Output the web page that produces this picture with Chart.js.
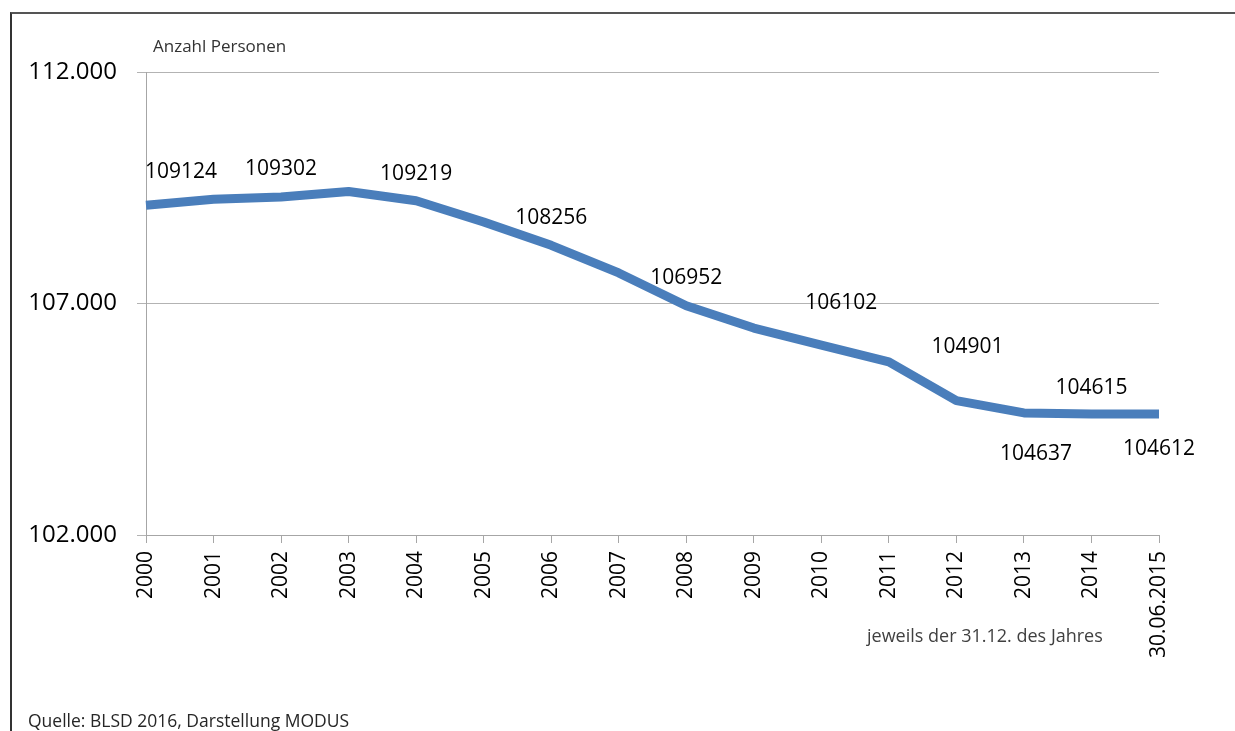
<!DOCTYPE html>
<html>
<head>
  <meta charset="utf-8">
  <title>Anzahl Personen 2000 - 2015</title>
  <style>
    body {
      margin: 0;
      padding: 0;
      background-color: #ffffff;
      font-family: "Open Sans", sans-serif;
    }
    #wrap {
      position: relative;
      width: 1235px;
      height: 731px;
      overflow: hidden;
    }
    #frame {
      position: absolute;
      left: 10px;
      top: 12px;
      width: 1300px;
      height: 800px;
      border-top: 2px solid #555555;
      border-left: 2px solid #333333;
    }
    canvas {
      position: absolute;
      left: 0;
      top: 0;
    }
    .note {
      position: absolute;
      white-space: nowrap;
      color: #333333;
    }
    #unit { left: 153px; top: 34px; font-size: 17px; }
    #stichtag { left: 867px; top: 623px; font-size: 18px; color: #404040; }
    #quelle { left: 28px; top: 708px; font-size: 17.5px; color: #262626; }
  </style>
  <script src="https://cdn.jsdelivr.net/npm/chart.js"></script>
</head>
<body>
  <div id="wrap">
    <div id="frame"></div>
    <canvas id="chart" width="1235" height="731"></canvas>
    <div class="note" id="unit">Anzahl Personen</div>
    <div class="note" id="stichtag">jeweils der 31.12. des Jahres</div>
    <div class="note" id="quelle">Quelle: BLSD 2016, Darstellung MODUS</div>
  </div>

  <script>
    // Daten
    var years = ['2000', '2001', '2002', '2003', '2004', '2005', '2006', '2007',
                 '2008', '2009', '2010', '2011', '2012', '2013', '2014', '30.06.2015'];
    var persons = [109124, 109250, 109302, 109420, 109219, 108760, 108256, 107660,
                   106952, 106470, 106102, 105740, 104901, 104637, 104615, 104612];
    var yTicks = [102000, 107000, 112000];

    // welche Punkte beschriftet sind, und wohin die Beschriftung rutscht
    var labelIdx = [0, 2, 4, 6, 8, 10, 12, 13, 14, 15];
    var labelDx  = [35, 0, 0, 0, 0, 20, 11, 12, 0, 0];
    var labelDy  = [-33, -28, -27, -27, -28, -42, -54, 41, -26, 35];

    function deFormat(v) {
      return String(v).replace(/\B(?=(\d{3})+(?!\d))/g, '.');
    }

    var pointLabels = {
      id: 'pointLabels',
      afterDatasetsDraw: function(chart) {
        var ctx = chart.ctx;
        var meta = chart.getDatasetMeta(0);
        ctx.save();
        ctx.font = '21px "Open Sans"';
        ctx.fillStyle = '#000000';
        ctx.textAlign = 'center';
        ctx.textBaseline = 'middle';
        labelIdx.forEach(function(idx, k) {
          var pt = meta.data[idx];
          ctx.fillText(String(persons[idx]), pt.x + labelDx[k], pt.y + labelDy[k]);
        });
        ctx.restore();
      }
    };

    var chart = new Chart(document.getElementById('chart'), {
      type: 'line',
      data: {
        labels: years,
        datasets: [{
          label: 'Anzahl Personen',
          data: persons,
          borderColor: '#4a7ebb',
          borderWidth: 9,
          borderJoinStyle: 'round',
          borderCapStyle: 'butt',
          pointRadius: 0,
          tension: 0,
          fill: false,
          clip: false
        }]
      },
      options: {
        responsive: false,
        animation: false,
        layout: { padding: { left: 0, top: 72, right: 76, bottom: 0 } },
        plugins: {
          legend: { display: false },
          tooltip: { enabled: false }
        },
        scales: {
          x: {
            offset: false,
            afterFit: function(scale) { scale.height = 196; },
            grid: {
              drawOnChartArea: false,
              drawTicks: true,
              tickLength: 8,
              color: '#a6a6a6'
            },
            border: { color: '#a6a6a6', width: 1 },
            ticks: {
              minRotation: 90,
              maxRotation: 90,
              autoSkip: false,
              padding: 8,
              color: '#000000',
              font: { family: 'Open Sans', size: 21 }
            }
          },
          y: {
            min: yTicks[0],
            max: yTicks[yTicks.length - 1],
            afterFit: function(scale) { scale.width = 146; },
            afterBuildTicks: function(scale) {
              scale.ticks = yTicks.map(function(v) { return { value: v }; });
            },
            grid: {
              drawTicks: true,
              tickLength: 9,
              color: '#b3b3b3'
            },
            border: { color: '#a6a6a6', width: 1 },
            ticks: {
              padding: 20,
              color: '#000000',
              font: { family: 'Open Sans', size: 24 },
              callback: function(v) { return deFormat(v); }
            }
          }
        }
      },
      plugins: [pointLabels]
    });
  </script>
</body>
</html>
